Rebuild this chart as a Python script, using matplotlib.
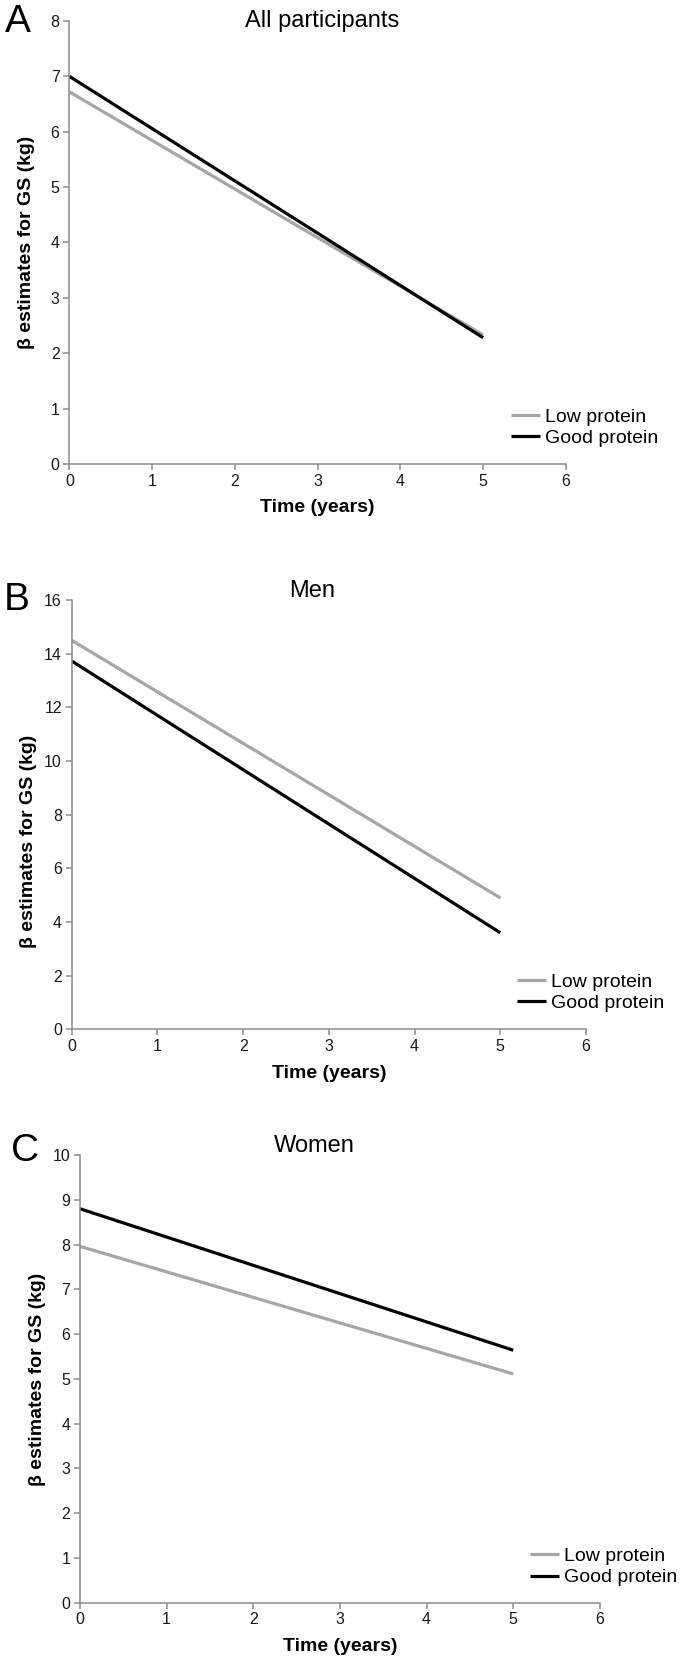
import numpy as np
from matplotlib import pyplot as plt

# data (beta estimates for grip strength, kg)
years = [0, 5]
all_low = [6.72, 2.33]
all_good = [7.00, 2.28]
men_low = [14.50, 4.90]
men_good = [13.73, 3.60]
women_low = [7.96, 5.11]
women_good = [8.80, 5.64]

series_labels = ['Low protein', 'Good protein']
panel_titles = ['All participants', 'Men', 'Women']
panel_letters = ['A', 'B', 'C']

plt.rcParams['font.family'] = ['Liberation Sans Narrow', 'Liberation Sans', 'DejaVu Sans']

AXIS_GREY = '#8c8c8c'
LOW_GREY = '#a6a6a6'


def draw_panel(fig, rect, low, good, ymax, ystep, title, title_x, title_y,
               leg_x, leg_y, ylab_x, ylab_y, xlab_y):
    ax = fig.add_axes(rect)
    ax.plot(years, low, color=LOW_GREY, linewidth=2.3, label=series_labels[0],
            solid_capstyle='butt')
    ax.plot(years, good, color='black', linewidth=2.3, label=series_labels[1],
            solid_capstyle='butt')
    ax.set_xlim(0, 6)
    ax.set_ylim(0, ymax)
    ax.set_xticks(np.arange(0, 7, 1))
    ax.set_yticks(np.arange(0, ymax + 0.01, ystep))
    for s in ['top', 'right']:
        ax.spines[s].set_visible(False)
    for s in ['left', 'bottom']:
        ax.spines[s].set_color(AXIS_GREY)
        ax.spines[s].set_linewidth(1.1)
    ax.tick_params(colors=AXIS_GREY, width=1.1, length=4, labelsize=11.5,
                   labelcolor='#1a1a1a', pad=3)
    ax.set_xlabel('Time (years)', fontsize=14, fontweight='bold')
    ax.xaxis.set_label_coords(0.5, xlab_y)
    ax.set_ylabel('\u03b2 estimates for GS (kg)', fontsize=14, fontweight='bold')
    ax.yaxis.set_label_coords(ylab_x, ylab_y)
    ax.text(title_x, title_y, title, transform=ax.transAxes, ha='center',
            va='center', fontsize=17)
    ax.legend(loc='center left', bbox_to_anchor=(leg_x, leg_y), frameon=False,
              fontsize=14, handlelength=1.5, handletextpad=0.25,
              labelspacing=0.2, borderpad=0, borderaxespad=0)
    return ax


fig = plt.figure(figsize=(6.83, 16.6), dpi=100)

draw_panel(fig, [0.1015, 0.7205, 0.727, 0.2669], all_low, all_good, 8, 1,
           panel_titles[0], 0.51, 1.0, 0.89, 0.082, -0.07, 0.5, -0.079)
draw_panel(fig, [0.105, 0.3799, 0.753, 0.2586], men_low, men_good, 16, 2,
           panel_titles[1], 0.468, 1.021, 0.866, 0.086, -0.067, 0.4375, -0.082)
draw_panel(fig, [0.1171, 0.0345, 0.7613, 0.2697], women_low, women_good, 10, 1,
           panel_titles[2], 0.45, 1.021, 0.866, 0.08, -0.065, 0.5, -0.078)

letter_pos = [(18, 22), (17, 600), (25, 1151)]
for letter, (px, py) in zip(panel_letters, letter_pos):
    fig.text(px / 683, 1 - py / 1660, letter, ha='center', va='center',
             fontsize=28, family=['Liberation Sans', 'DejaVu Sans'])

plt.savefig('out.png', dpi=100)
